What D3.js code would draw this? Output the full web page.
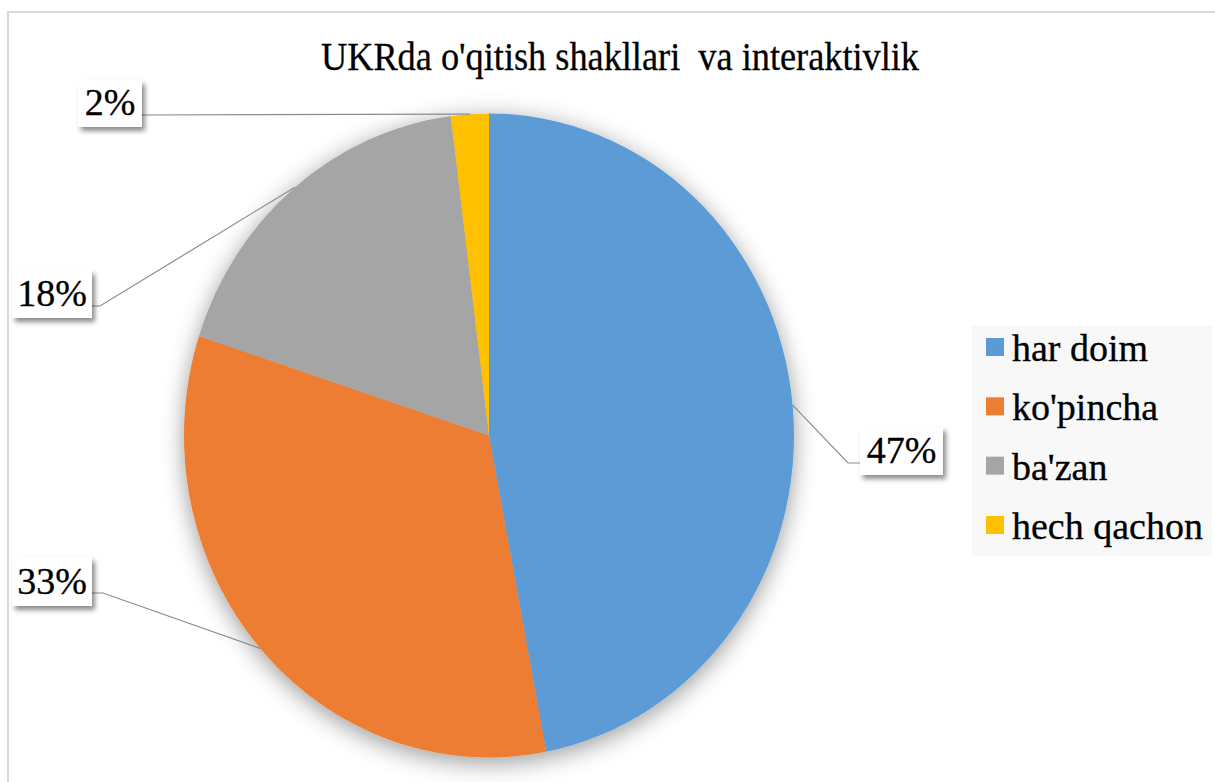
<!DOCTYPE html>
<html>
<head>
<meta charset="utf-8">
<script src="https://cdn.jsdelivr.net/npm/d3@7"></script>
<style>
  body { margin: 0; background: #fff; }
  svg { display: block; }
</style>
</head>
<body>
<svg id="chart"></svg>
<script>
// chart data
var categories = ["har doim", "ko'pincha", "ba'zan", "hech qachon"];
var values = [47, 33, 18, 2];
var labels = ["47%", "33%", "18%", "2%"];
var colors = ["#5B9BD5", "#ED7D31", "#A5A5A5", "#FFC000"];
var title = "UKRda o'qitish shakllari  va interaktivlik";

var width = 1215, height = 782;
var cx = 489, cy = 435.5, rx = 305, ry = 322;
var serif = "Liberation Serif";

// label boxes (layout): box x, y, w, h and the elbow of the leader line
var labelBoxes = [
    { x: 860, y: 427, w: 83, h: 48, elbow: [848, 463], end: [860, 463] },
    { x: 12, y: 557, w: 80, h: 49, elbow: [103, 593], end: [92, 593] },
    { x: 12, y: 270, w: 80, h: 48, elbow: [100, 306], end: [92, 306] },
    { x: 78, y: 80, w: 64, h: 47, elbow: [142, 115], end: [142, 115] }
];

var svg = d3.select('#chart')
    .attr('width', width)
    .attr('height', height)
    .attr('font-family', serif);

var defs = svg.append('defs');
defs.append('filter')
    .attr('id', 'pieShadow')
    .attr('x', '-20%').attr('y', '-20%')
    .attr('width', '140%').attr('height', '140%')
    .append('feDropShadow')
    .attr('dx', 0).attr('dy', 5)
    .attr('stdDeviation', 12)
    .attr('flood-color', '#000')
    .attr('flood-opacity', 0.4);

defs.append('filter')
    .attr('id', 'boxShadow')
    .attr('x', '-30%').attr('y', '-30%')
    .attr('width', '160%').attr('height', '160%')
    .append('feDropShadow')
    .attr('dx', 3).attr('dy', 4)
    .attr('stdDeviation', 2.5)
    .attr('flood-color', '#000')
    .attr('flood-opacity', 0.45);

// outer frame
svg.append('rect')
    .attr('x', 8).attr('y', 12)
    .attr('width', 1400).attr('height', 1000)
    .attr('fill', 'none')
    .attr('stroke', '#d9d9d9')
    .attr('stroke-width', 2);

// title
svg.append('text')
    .attr('x', 620)
    .attr('y', 70)
    .attr('text-anchor', 'middle')
    .attr('font-size', 40)
    .attr('textLength', 598)
    .attr('lengthAdjust', 'spacingAndGlyphs')
    .attr('stroke', '#000')
    .attr('stroke-width', 0.3)
    .style('white-space', 'pre')
    .text(title);

// pie
var pie = d3.pie().sort(null).value(function (d) { return d; });
var arcs = pie(values);
var arc = d3.arc().innerRadius(0).outerRadius(ry);

var pieG = svg.append('g')
    .attr('filter', 'url(#pieShadow)')
    .attr('transform', 'translate(' + cx + ',' + cy + ') scale(' + (rx / ry) + ',1)');

pieG.selectAll('path')
    .data(arcs)
    .enter()
    .append('path')
    .attr('d', arc)
    .attr('fill', function (d, i) { return colors[i]; });

// leader lines from the middle of each slice edge
function edgePoint(d) {
    var a = (d.startAngle + d.endAngle) / 2;
    return [cx + rx * Math.sin(a), cy - ry * Math.cos(a)];
}

svg.selectAll('.leader')
    .data(arcs)
    .enter()
    .append('polyline')
    .attr('class', 'leader')
    .attr('points', function (d, i) {
        var p = edgePoint(d), b = labelBoxes[i];
        return [p, b.elbow, b.end].map(function (q) { return q.join(','); }).join(' ');
    })
    .attr('fill', 'none')
    .attr('stroke', '#8c8c8c')
    .attr('stroke-width', 1.2);

// label boxes
var lab = svg.selectAll('.lab')
    .data(arcs)
    .enter()
    .append('g')
    .attr('class', 'lab');

lab.append('rect')
    .attr('x', function (d, i) { return labelBoxes[i].x; })
    .attr('y', function (d, i) { return labelBoxes[i].y; })
    .attr('width', function (d, i) { return labelBoxes[i].w; })
    .attr('height', function (d, i) { return labelBoxes[i].h; })
    .attr('fill', '#fff')
    .attr('filter', 'url(#boxShadow)');

lab.append('text')
    .attr('x', function (d, i) { return labelBoxes[i].x + labelBoxes[i].w / 2; })
    .attr('y', function (d, i) { return labelBoxes[i].y + labelBoxes[i].h - 12; })
    .attr('text-anchor', 'middle')
    .attr('font-size', 38)
    .attr('stroke', '#000')
    .attr('stroke-width', 0.3)
    .text(function (d, i) { return labels[i]; });

// legend
var legend = svg.append('g');
legend.append('rect')
    .attr('x', 972).attr('y', 326)
    .attr('width', 240).attr('height', 230)
    .attr('fill', '#f8f8f8');

var yLegend = d3.scalePoint()
    .domain(categories)
    .range([347, 525]);

var item = legend.selectAll('.item')
    .data(categories)
    .enter()
    .append('g')
    .attr('class', 'item')
    .attr('transform', function (d) { return 'translate(0,' + yLegend(d) + ')'; });

item.append('rect')
    .attr('x', 986).attr('y', -9)
    .attr('width', 18).attr('height', 18)
    .attr('fill', function (d, i) { return colors[i]; });

item.append('text')
    .attr('x', 1012)
    .attr('y', 14)
    .attr('font-size', 38)
    .attr('stroke', '#000')
    .attr('stroke-width', 0.3)
    .text(function (d) { return d; });
</script>
</body>
</html>
